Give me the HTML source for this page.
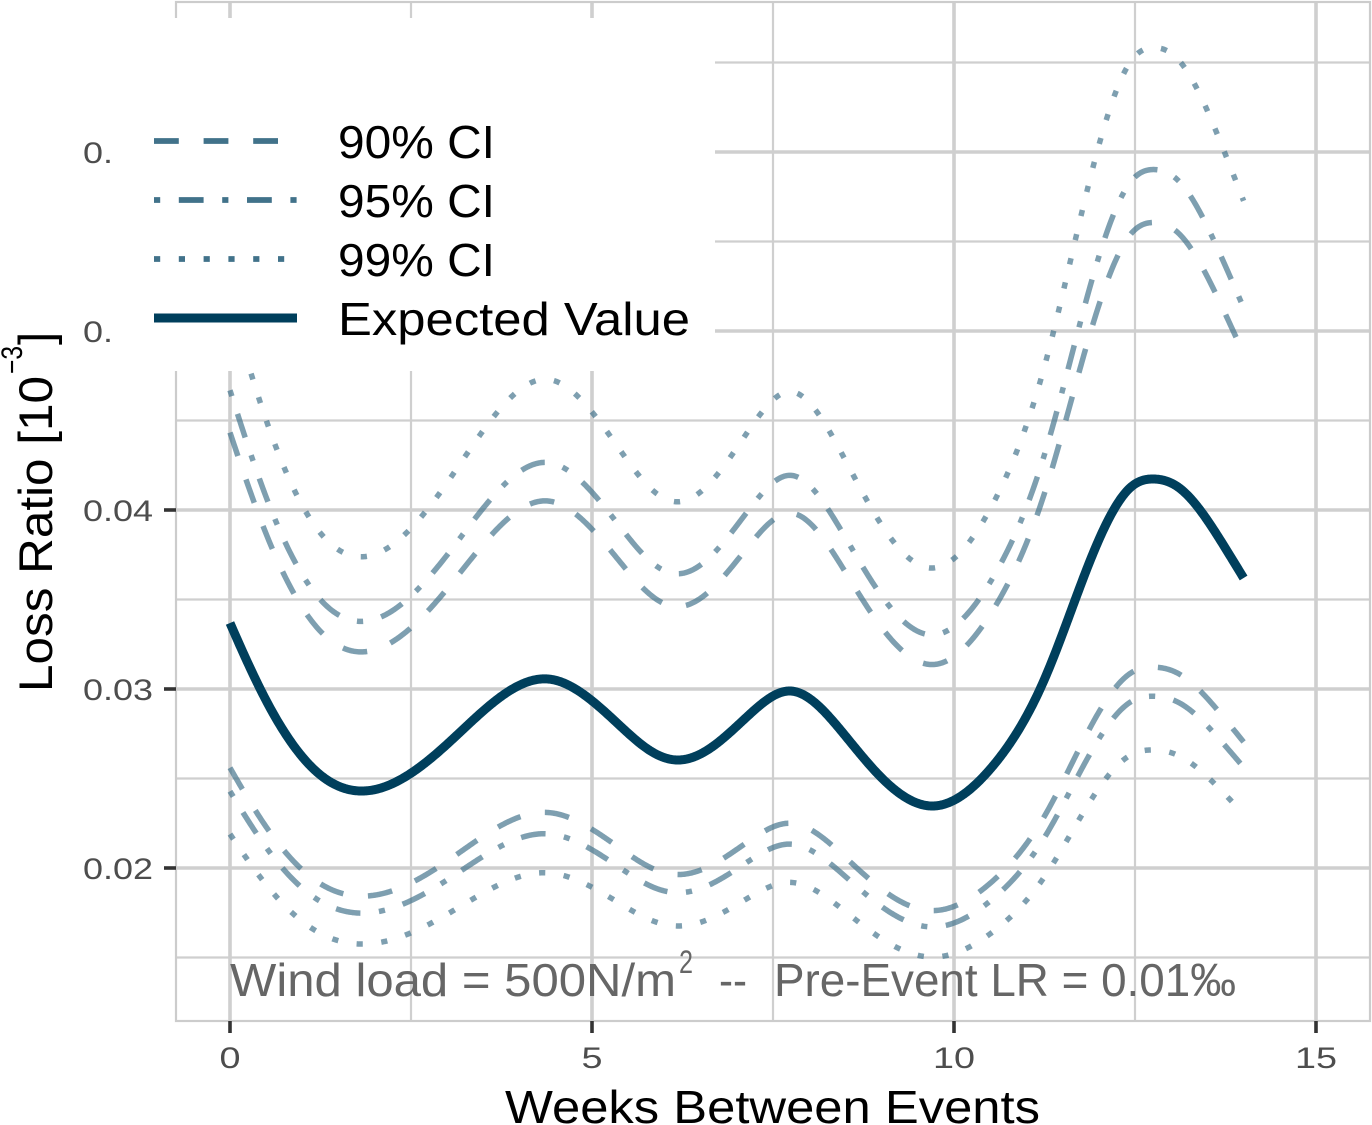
<!DOCTYPE html>
<html>
<head>
<meta charset="utf-8">
<style>
html,body{margin:0;padding:0;background:#fff;}
svg{display:block;}
</style>
</head>
<body>
<svg id="chart" width="1372" height="1125" viewBox="0 0 1372 1125" xmlns="http://www.w3.org/2000/svg" font-family="'Liberation Sans', Arial, sans-serif">
<rect x="0" y="0" width="1372" height="1125" fill="#ffffff"/>

<!-- minor gridlines -->
<g stroke="#cfcfcf" stroke-width="2.2" fill="none">
  <line x1="411" y1="2" x2="411" y2="1021"/>
  <line x1="773" y1="2" x2="773" y2="1021"/>
  <line x1="1135" y1="2" x2="1135" y2="1021"/>
  <line x1="176" y1="957.5" x2="1370" y2="957.5"/>
  <line x1="176" y1="778.5" x2="1370" y2="778.5"/>
  <line x1="176" y1="599.5" x2="1370" y2="599.5"/>
  <line x1="176" y1="420.5" x2="1370" y2="420.5"/>
  <line x1="176" y1="241.5" x2="1370" y2="241.5"/>
  <line x1="176" y1="62.5" x2="1370" y2="62.5"/>
</g>
<!-- major gridlines -->
<g stroke="#cfcfcf" stroke-width="3.6" fill="none">
  <line x1="230" y1="2" x2="230" y2="1021"/>
  <line x1="592" y1="2" x2="592" y2="1021"/>
  <line x1="954" y1="2" x2="954" y2="1021"/>
  <line x1="1316" y1="2" x2="1316" y2="1021"/>
  <line x1="176" y1="868" x2="1370" y2="868"/>
  <line x1="176" y1="689" x2="1370" y2="689"/>
  <line x1="176" y1="510" x2="1370" y2="510"/>
  <line x1="176" y1="331" x2="1370" y2="331"/>
  <line x1="176" y1="152" x2="1370" y2="152"/>
</g>
<!-- panel border -->
<rect x="176" y="2" width="1194" height="1019" fill="none" stroke="#cccccc" stroke-width="2.2"/>

<!-- ticks -->
<g stroke="#333333" stroke-width="3.6">
  <line x1="164" y1="868" x2="176" y2="868"/>
  <line x1="164" y1="689" x2="176" y2="689"/>
  <line x1="164" y1="510" x2="176" y2="510"/>
  <line x1="164" y1="331" x2="176" y2="331"/>
  <line x1="164" y1="152" x2="176" y2="152"/>
  <line x1="230" y1="1021" x2="230" y2="1033"/>
  <line x1="592" y1="1021" x2="592" y2="1033"/>
  <line x1="954" y1="1021" x2="954" y2="1033"/>
  <line x1="1316" y1="1021" x2="1316" y2="1033"/>
</g>

<!-- y tick labels -->
<g fill="#4d4d4d" font-size="30">
  <text x="83" y="879" textLength="70" lengthAdjust="spacingAndGlyphs">0.02</text>
  <text x="83" y="700" textLength="70" lengthAdjust="spacingAndGlyphs">0.03</text>
  <text x="83" y="521" textLength="70" lengthAdjust="spacingAndGlyphs">0.04</text>
  <text x="83" y="342" textLength="70" lengthAdjust="spacingAndGlyphs">0.05</text>
  <text x="83" y="163" textLength="70" lengthAdjust="spacingAndGlyphs">0.06</text>
</g>
<!-- x tick labels -->
<g fill="#4d4d4d" font-size="30">
  <text x="219.5" y="1068" textLength="21" lengthAdjust="spacingAndGlyphs">0</text>
  <text x="581.5" y="1068" textLength="21" lengthAdjust="spacingAndGlyphs">5</text>
  <text x="933" y="1068" textLength="42" lengthAdjust="spacingAndGlyphs">10</text>
  <text x="1295" y="1068" textLength="42" lengthAdjust="spacingAndGlyphs">15</text>
</g>

<!-- annotation -->
<g fill="#666666">
  <text x="230" y="996" font-size="46" textLength="446" lengthAdjust="spacingAndGlyphs">Wind load = 500N/m</text>
  <text x="679" y="973" font-size="32" textLength="14" lengthAdjust="spacingAndGlyphs">2</text>
  <text x="719" y="996" font-size="46" textLength="28" lengthAdjust="spacingAndGlyphs">--</text>
  <text x="774" y="996" font-size="46" textLength="462" lengthAdjust="spacingAndGlyphs">Pre-Event LR = 0.01‰</text>
</g>

<!-- curves -->
<g id="curves" fill="none"></g>

<!-- legend -->
<rect x="112" y="18" width="603" height="353" fill="#ffffff"/>
<g fill="none" stroke="#41728a" stroke-width="5.8" stroke-linecap="butt">
  <line x1="154" y1="141" x2="297" y2="141" stroke-dasharray="24.8 24.8"/>
  <line x1="154" y1="200" x2="297" y2="200" stroke-dasharray="6.2 18.6 24.8 18.6"/>
  <line x1="154" y1="259" x2="297" y2="259" stroke-dasharray="6.2 18.6"/>
</g>
<line x1="154" y1="318" x2="297" y2="318" stroke="#003f5c" stroke-width="9"/>
<g fill="#000000" font-size="46">
  <text x="338" y="158" textLength="157" lengthAdjust="spacingAndGlyphs">90% CI</text>
  <text x="338" y="217" textLength="157" lengthAdjust="spacingAndGlyphs">95% CI</text>
  <text x="338" y="276" textLength="157" lengthAdjust="spacingAndGlyphs">99% CI</text>
  <text x="338" y="335" textLength="352" lengthAdjust="spacingAndGlyphs">Expected Value</text>
</g>

<!-- axis titles -->
<text x="772.5" y="1123" font-size="46" fill="#000" text-anchor="middle" textLength="535" lengthAdjust="spacingAndGlyphs">Weeks Between Events</text>
<g transform="translate(52,511) rotate(-90)" fill="#000">
  <text x="-181" y="0" font-size="47" textLength="316" lengthAdjust="spacingAndGlyphs">Loss Ratio [10</text>
  <text x="137" y="-30" font-size="30" textLength="28" lengthAdjust="spacingAndGlyphs">−3</text>
  <text x="166" y="0" font-size="47">]</text>
</g>
</svg>

<script>
(function(){
  var pts = [[230,623],[268,704],[318,773],[360,791],[444,747],[482,712],[548,679],[616,722],[654,753],[678,760],[712,747],[750,714],[790,691],[843,733],[876,772],[932,806],[992,767],[1045,678],[1092,556],[1131,487],[1154,479],[1178,487],[1224,546],[1243.6,578]];
  var n = pts.length;
  var X = pts.map(function(p){return p[0];}), Y = pts.map(function(p){return p[1];});
  var h = []; for (var i=0;i<n-1;i++) h[i]=X[i+1]-X[i];
  var m0 = 2.3, mn = 1.65;
  // clamped cubic spline: solve tridiagonal for second derivatives M
  var a=[],b=[],c=[],d=[];
  a[0]=0; b[0]=2*h[0]; c[0]=h[0]; d[0]=6*((Y[1]-Y[0])/h[0]-m0);
  for (i=1;i<n-1;i++){
    a[i]=h[i-1]; b[i]=2*(h[i-1]+h[i]); c[i]=h[i];
    d[i]=6*((Y[i+1]-Y[i])/h[i]-(Y[i]-Y[i-1])/h[i-1]);
  }
  a[n-1]=h[n-2]; b[n-1]=2*h[n-2]; c[n-1]=0; d[n-1]=6*(mn-(Y[n-1]-Y[n-2])/h[n-2]);
  var cp=[],dp=[];
  cp[0]=c[0]/b[0]; dp[0]=d[0]/b[0];
  for (i=1;i<n;i++){
    var den=b[i]-a[i]*cp[i-1];
    cp[i]=c[i]/den; dp[i]=(d[i]-a[i]*dp[i-1])/den;
  }
  var M=[]; M[n-1]=dp[n-1];
  for (i=n-2;i>=0;i--) M[i]=dp[i]-cp[i]*M[i+1];
  function ev(x){
    var i=0;
    while(i<n-2 && x>X[i+1]) i++;
    var hh=h[i], A=X[i+1]-x, B=x-X[i];
    return M[i]*A*A*A/(6*hh)+M[i+1]*B*B*B/(6*hh)+(Y[i]/hh-M[i]*hh/6)*A+(Y[i+1]/hh-M[i+1]*hh/6)*B;
  }
  var xs=[];
  for (var x=230;x<1243.6;x+=1) xs.push(x);
  xs.push(1243.6);
  function pathFor(k0,k1){
    var dd='';
    for (var j=0;j<xs.length;j++){
      var x=xs[j], y=ev(x);
      if (k0!==null){
        var k=k0+k1*(x-230)/1013.6;
        y=1226-k*(1226-y);
      }
      dd+=(j===0?'M':'L')+x.toFixed(1)+' '+y.toFixed(2);
    }
    return dd;
  }
  var NS='http://www.w3.org/2000/svg';
  var g=document.getElementById('curves');
  var cis=[
    [1.316,0.030,'24.8 24.8'],
    [1.386,0.031,'6.2 18.6 24.8 18.6'],
    [1.532,0.050,'6.2 18.6'],
    [0.760,-0.013,'24.8 24.8'],
    [0.721,-0.013,'6.2 18.6 24.8 18.6'],
    [0.650,-0.014,'6.2 18.6']
  ];
  for (var q=0;q<cis.length;q++){
    var p=document.createElementNS(NS,'path');
    p.setAttribute('d',pathFor(cis[q][0],cis[q][1]));
    p.setAttribute('stroke','#41728a');
    p.setAttribute('stroke-opacity','0.68');
    p.setAttribute('stroke-width','5.5');
    p.setAttribute('stroke-dasharray',cis[q][2]);
    p.setAttribute('stroke-linecap','butt');
    p.setAttribute('fill','none');
    g.appendChild(p);
  }
  var e=document.createElementNS(NS,'path');
  e.setAttribute('d',pathFor(null,0));
  e.setAttribute('stroke','#003f5c');
  e.setAttribute('stroke-width','9');
  e.setAttribute('fill','none');
  e.setAttribute('stroke-linejoin','round');
  g.appendChild(e);
})();
</script>
</body>
</html>
